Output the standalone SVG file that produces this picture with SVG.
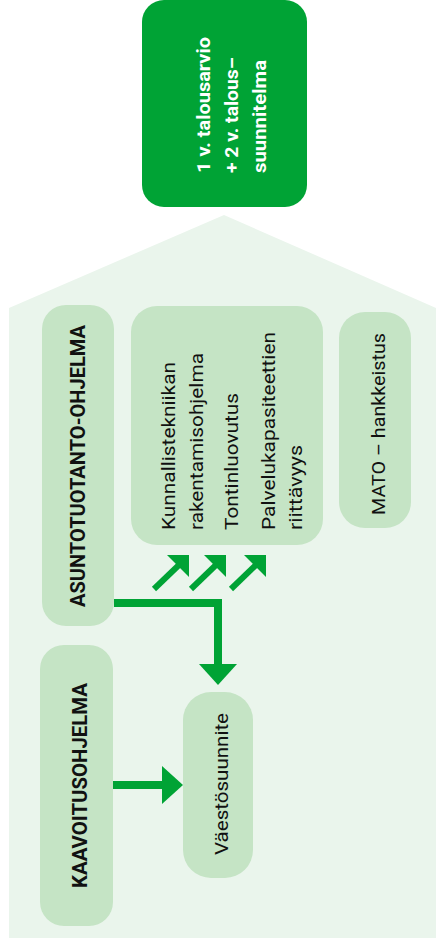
<svg xmlns="http://www.w3.org/2000/svg" width="436" height="946" viewBox="0 0 436 946">
<style>
.bg{fill:#eaf5ec}
.box{fill:#c5e4c5}
.top{fill:#00a335}
.g{fill:#00a335}
.ln{stroke:#00a335;fill:none}
.h{font-family:Roboto,"Liberation Sans",sans-serif;font-weight:bold;font-size:20px;fill:#111}
.t{font-family:Roboto,"Liberation Sans",sans-serif;font-size:19px;fill:#111}
.w{font-family:Roboto,"Liberation Sans",sans-serif;font-weight:bold;font-size:18px;fill:#fff}
</style>
<rect width="436" height="946" fill="#fff"/>
<polygon class="bg" points="9,308 224,215 436,308 436,938 9,938"/>
<g id="budget">
<rect class="top" x="142" y="0" width="165" height="207" rx="22"/>
<text class="w" transform="translate(210,173) rotate(-90)" textLength="136" lengthAdjust="spacingAndGlyphs">1 v. talousarvio</text>
<text class="w" transform="translate(238,173) rotate(-90)" textLength="116" lengthAdjust="spacingAndGlyphs">+ 2 v. talous–</text>
<text class="w" transform="translate(266,173) rotate(-90)" textLength="113" lengthAdjust="spacingAndGlyphs">suunnitelma</text>
</g>
<g id="asunto">
<rect class="box" x="42" y="305" width="72" height="321" rx="24"/>
<text class="h" transform="translate(85,607) rotate(-90)" textLength="282" lengthAdjust="spacingAndGlyphs">ASUNTOTUOTANTO-OHJELMA</text>
</g>
<g id="ohjelmat">
<rect class="box" x="131" y="306" width="192" height="239" rx="26"/>
<text class="t" transform="translate(175,530) rotate(-90)" textLength="168" lengthAdjust="spacingAndGlyphs">Kunnallistekniikan</text>
<text class="t" transform="translate(203,530) rotate(-90)" textLength="177" lengthAdjust="spacingAndGlyphs">rakentamisohjelma</text>
<text class="t" transform="translate(238,530) rotate(-90)" textLength="137" lengthAdjust="spacingAndGlyphs">Tontinluovutus</text>
<text class="t" transform="translate(275,530) rotate(-90)" textLength="198" lengthAdjust="spacingAndGlyphs">Palvelukapasiteettien</text>
<text class="t" transform="translate(302,530) rotate(-90)" textLength="85" lengthAdjust="spacingAndGlyphs">riittävyys</text>
</g>
<g id="mato">
<rect class="box" x="339" y="312" width="72" height="216" rx="26"/>
<text class="t" transform="translate(385,515) rotate(-90)" textLength="182" lengthAdjust="spacingAndGlyphs">MATO – hankkeistus</text>
</g>
<g id="kaavoitus">
<rect class="box" x="40" y="645" width="73" height="281" rx="24"/>
<text class="h" transform="translate(87,888) rotate(-90)" textLength="205" lengthAdjust="spacingAndGlyphs">KAAVOITUSOHJELMA</text>
</g>
<g id="vaesto">
<rect class="box" x="183" y="692" width="70" height="186" rx="28"/>
<text class="t" transform="translate(228,855) rotate(-90)" textLength="142" lengthAdjust="spacingAndGlyphs">Väestösuunnite</text>
</g>
<g id="connectors">
<polyline class="ln" stroke-width="8" points="114,603 218,603 218,666"/>
<polygon class="g" points="199,664 237,664 218,685"/>
<line class="ln" stroke-width="8" x1="113" y1="785" x2="164" y2="785"/>
<polygon class="g" points="162,766 162,804 183,785"/>
<line class="ln" stroke-width="6" x1="154" y1="589" x2="180" y2="564"/>
<polygon class="g" points="167,555 189,555 189,577"/>
<line class="ln" stroke-width="6" x1="191" y1="589" x2="217" y2="564"/>
<polygon class="g" points="204,555 226,555 226,577"/>
<line class="ln" stroke-width="6" x1="231" y1="589" x2="257" y2="564"/>
<polygon class="g" points="244,555 266,555 266,577"/>
</g>
</svg>
